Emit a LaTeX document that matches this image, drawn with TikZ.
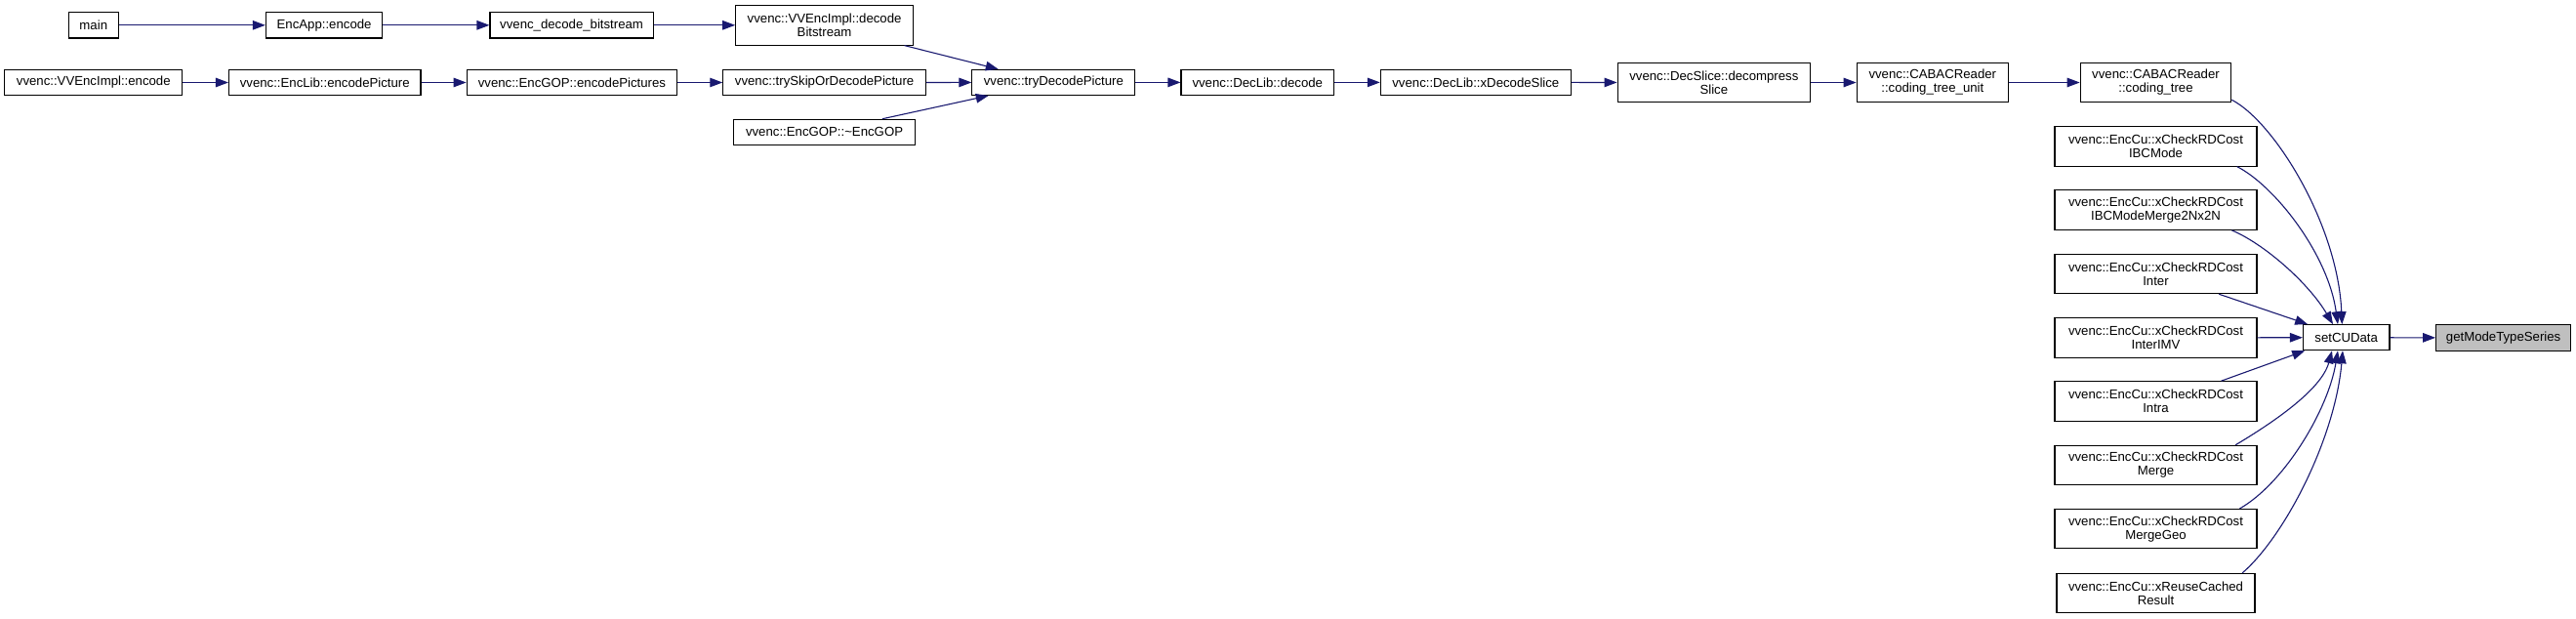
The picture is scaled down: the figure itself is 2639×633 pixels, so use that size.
\documentclass[tikz,border=0pt]{standalone}
\usepackage{fontspec}
\setmainfont{Liberation Sans}
\usetikzlibrary{arrows.meta}
\definecolor{edgecol}{HTML}{191970}
\definecolor{hlfill}{HTML}{BFBFBF}
\begin{document}
\begin{tikzpicture}[x=1pt,y=-1pt,
  box/.style={draw=black,line width=1.1pt,fill=white,inner sep=0pt,align=center,
    font=\fontsize{13.2}{14}\selectfont},
  sz/.style 2 args={minimum width=#1pt,minimum height=#2pt},
  edge/.style={draw=edgecol,line width=1.1pt,-{Triangle[length=13pt,width=9.5pt]}}]
\fill[white] (0,0) rectangle (2639,633);
\useasboundingbox (0,0) rectangle (2639,633);

% row 1
\node[box,sz={50.8}{26.3}]  (main)   at (95.8,25.8)  {main};
\node[box,sz={119.4}{26.3}] (encapp) at (332.1,25.8) {EncApp::encode};
\node[box,sz={167.2}{26.3}] (vdb)    at (585.6,25.8) {vvenc\_decode\_bitstream};
\node[box,sz={181.8}{40.7}] (vvdec)  at (844.6,25.7) {vvenc::VVEncImpl::decode\\Bitstream};
% row 2
\node[box,sz={181.8}{26.4}] (vvenc)   at (95.8,84.5)   {vvenc::VVEncImpl::encode};
\node[box,sz={196.5}{26.4}] (enclib)  at (332.75,84.5) {vvenc::EncLib::encodePicture};
\node[box,sz={215.5}{26.4}] (encgop)  at (585.95,84.5) {vvenc::EncGOP::encodePictures};
\node[box,sz={207.6}{26.4}] (tryskip) at (844.6,84.5)  {vvenc::trySkipOrDecodePicture};
\node[box,sz={167}{26}]     (trydec)  at (1079.4,84.4) {vvenc::tryDecodePicture};
\node[box,sz={156.6}{26}]   (decode)  at (1288.3,84.4) {vvenc::DecLib::decode};
\node[box,sz={195.1}{26}]   (xdec)    at (1511.85,84.4) {vvenc::DecLib::xDecodeSlice};
\node[box,sz={197.5}{40.4}] (decomp)  at (1755.85,84.5) {vvenc::DecSlice::decompress\\Slice};
\node[box,sz={155.2}{40.4}] (ctu)     at (1979.8,84.5) {vvenc::CABACReader\\::coding\_tree\_unit};
\node[box,sz={154.6}{40.4}] (ct)      at (2208.5,84.5) {vvenc::CABACReader\\::coding\_tree};
\node[box,sz={185.5}{26}]   (dtor)    at (844.55,135.3) {vvenc::EncGOP::\textasciitilde EncGOP};
% EncCu column
\node[box,sz={207}{40.4}] (ibc)   at (2208.5,149.9) {vvenc::EncCu::xCheckRDCost\\IBCMode};
\node[box,sz={207}{40.4}] (m2n)   at (2208.5,215.1) {vvenc::EncCu::xCheckRDCost\\IBCModeMerge2Nx2N};
\node[box,sz={207}{40.4}] (inter) at (2208.5,280.5) {vvenc::EncCu::xCheckRDCost\\Inter};
\node[box,sz={207}{40.4}] (imv)   at (2208.5,345.9) {vvenc::EncCu::xCheckRDCost\\InterIMV};
\node[box,sz={207}{40.4}] (intra) at (2208.5,410.9) {vvenc::EncCu::xCheckRDCost\\Intra};
\node[box,sz={207}{40.4}] (merge) at (2208.5,476.5) {vvenc::EncCu::xCheckRDCost\\Merge};
\node[box,sz={207}{40.4}] (geo)   at (2208.5,541.7) {vvenc::EncCu::xCheckRDCost\\MergeGeo};
\node[box,sz={203}{40.4}] (reuse) at (2208.5,607.7) {vvenc::EncCu::xReuseCached\\Result};
% targets
\node[box,sz={88.5}{26}]  (scd)  at (2403.7,345.7) {setCUData};
\node[box,sz={138}{26.3},fill=hlfill] (gmts) at (2564.6,346) {getModeTypeSeries};

% edges
\draw[edge] (main) -- (encapp);
\draw[edge] (encapp) -- (vdb);
\draw[edge] (vdb.east) -- (vdb.east -| vvdec.west);
\draw[edge] ([xshift=-9.5pt]vvdec.south east) -- ([xshift=27.4pt]trydec.north west);
\draw[edge] (vvenc) -- (enclib);
\draw[edge] (enclib) -- (encgop);
\draw[edge] (encgop) -- (tryskip);
\draw[edge] (tryskip) -- (trydec);
\draw[edge] ([xshift=-34pt]dtor.north east) -- ([xshift=17.4pt]trydec.south west);
\draw[edge] (trydec) -- (decode);
\draw[edge] (decode) -- (xdec);
\draw[edge] (xdec) -- (decomp);
\draw[edge] (decomp) -- (ctu);
\draw[edge] (ctu) -- (ct);

\draw[edge] ([yshift=3pt]ct.south east) .. controls (2330,125) and (2395,230) .. ([xshift=-4.4pt]scd.north);
\draw[edge] ([xshift=-20.8pt]ibc.south east) .. controls (2330,190) and (2385,260) .. ([xshift=-8.7pt]scd.north);
\draw[edge] ([xshift=-26.2pt]m2n.south east) .. controls (2320,250) and (2365,290) .. ([xshift=-13.7pt]scd.north);
\draw[edge] ([xshift=-39.3pt]inter.south east) -- ([xshift=5.3pt]scd.north west);
\draw[edge] (imv) -- (scd);
\draw[edge] ([xshift=-37pt]intra.north east) -- ([xshift=2.3pt]scd.south west);
\draw[edge] ([xshift=-22.4pt]merge.north east) .. controls (2325,435) and (2378,400) .. ([xshift=-14.7pt]scd.south);
\draw[edge] ([xshift=-18.1pt]geo.north east) .. controls (2340,495) and (2385,420) .. ([xshift=-8.7pt]scd.south);
\draw[edge] ([xshift=-13.5pt]reuse.north east) .. controls (2340,550) and (2392,450) .. ([xshift=-3.7pt]scd.south);
\draw[edge] (scd) -- (gmts);
\end{tikzpicture}
\end{document}
